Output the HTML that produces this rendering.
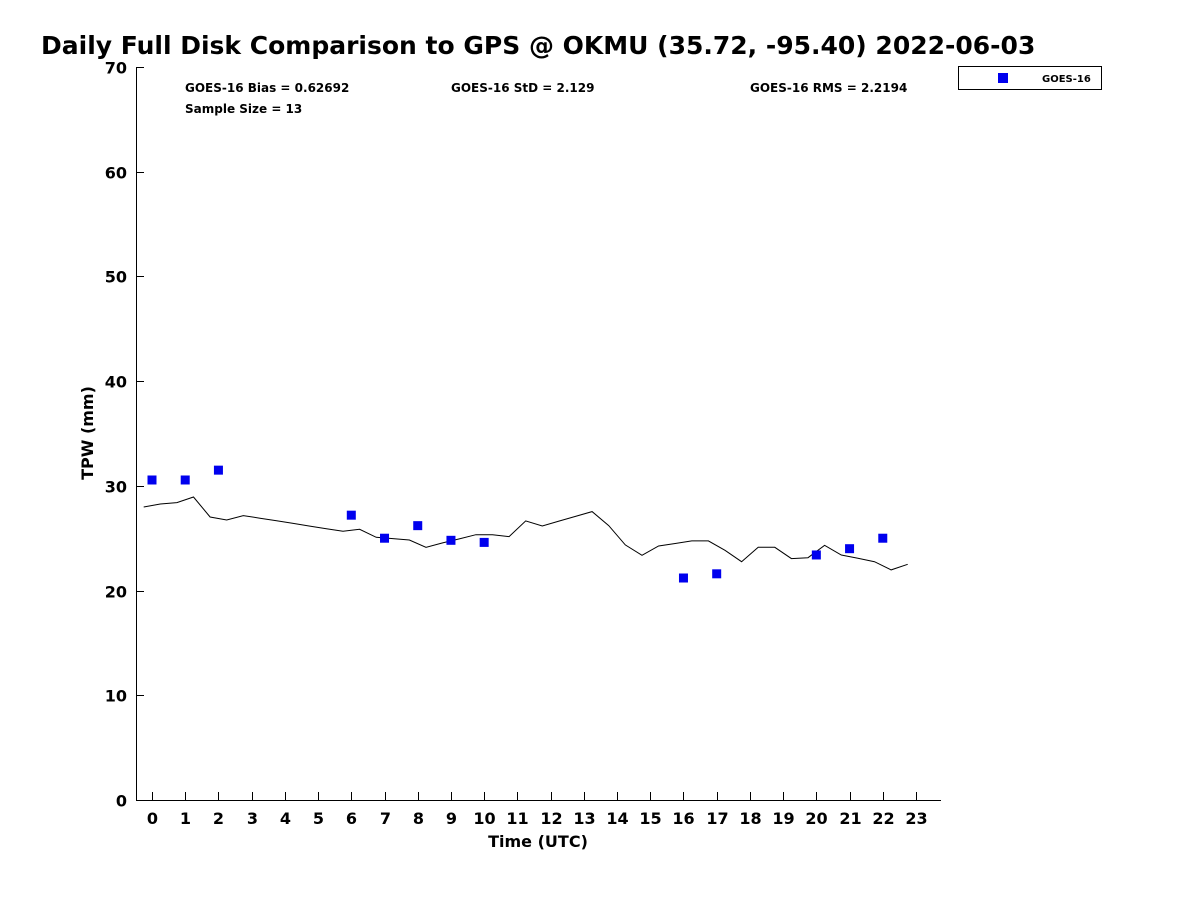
<!DOCTYPE html>
<html><head><meta charset="utf-8"><style>
body{margin:0;background:#fff;}
svg text{font-family:"DejaVu Sans","Liberation Sans",sans-serif;font-weight:bold;fill:#000;}
</style></head><body>
<svg id="chart" width="1200" height="900" xmlns="http://www.w3.org/2000/svg">
<rect width="1200" height="900" fill="#fff"/>
<text x="41" y="54" font-size="25">Daily Full Disk Comparison to GPS @ OKMU (35.72, -95.40) 2022-06-03</text>
<g id="axes"></g>
<g id="marks"></g>
<text x="185" y="92" font-size="12">GOES-16 Bias = 0.62692</text>
<text x="451" y="92" font-size="12">GOES-16 StD = 2.129</text>
<text x="750" y="92" font-size="12">GOES-16 RMS = 2.2194</text>
<text x="185" y="113" font-size="12">Sample Size = 13</text>
<g>
<rect x="958.5" y="66.5" width="143" height="23" fill="#fff" stroke="#000" stroke-width="1"/>
<rect x="998" y="73" width="10" height="10" fill="#0000ee"/>
<text x="1042" y="82" font-size="10">GOES-16</text>
</g>
<text transform="translate(93,433) rotate(-90)" text-anchor="middle" font-size="16">TPW (mm)</text>
<text x="538" y="847" text-anchor="middle" font-size="16">Time (UTC)</text>
</svg>
<script>
const gpsTimes=[-0.25,0.25,0.75,1.25,1.75,2.25,2.75,3.25,3.75,4.25,4.75,5.25,5.75,6.25,6.75,7.25,7.75,8.25,8.75,9.25,9.75,10.25,10.75,11.25,11.75,12.25,12.75,13.25,13.75,14.25,14.75,15.25,15.75,16.25,16.75,17.25,17.75,18.25,18.75,19.25,19.75,20.25,20.75,21.25,21.75,22.25,22.75];
const gpsValues=[27.98,28.27,28.4,28.94,27.03,26.74,27.16,26.91,26.66,26.41,26.16,25.91,25.66,25.85,25.09,24.96,24.83,24.13,24.55,24.93,25.34,25.34,25.15,26.65,26.17,26.63,27.08,27.54,26.2,24.36,23.37,24.26,24.5,24.74,24.74,23.85,22.76,24.13,24.13,23.05,23.14,24.32,23.4,23.08,22.76,21.97,22.51];
const goesTimes=[0,1,2,6,7,8,9,10,16,17,20,21,22];
const goesValues=[30.56,30.56,31.5,27.2,25.0,26.2,24.8,24.6,21.2,21.6,23.4,24.0,25.0];
const xTicks=[0,1,2,3,4,5,6,7,8,9,10,11,12,13,14,15,16,17,18,19,20,21,22,23];
const yTicks=[0,10,20,30,40,50,60,70];
const NS='http://www.w3.org/2000/svg';
const L=136,R=941,T=67,B=800;
const X=t=>152+t*33.217;
const Y=v=>B-(v/70)*(B-T);
function el(tag,attrs,parent){const e=document.createElementNS(NS,tag);for(const k in attrs)e.setAttribute(k,attrs[k]);parent.appendChild(e);return e;}
const axes=document.getElementById('axes'),marks=document.getElementById('marks');
const yl=el('line',{x1:L+0.5,y1:T,x2:L+0.5,y2:B,stroke:'#000'},axes);


const xl=el('line',{x1:L,y1:B+0.5,x2:R,y2:B+0.5,stroke:'#000'},axes);


yTicks.forEach(v=>{
  const y=Math.round(Y(v))+0.5;
  const tk=el('line',{x1:L,y1:y,x2:L+8,y2:y,stroke:'#000'},axes);
  
  
  const tx=el('text',{x:L-9,y:y+6,'text-anchor':'end','font-size':16,fill:'#222'},axes);
  tx.textContent=v;
  
  
});
xTicks.forEach(t=>{
  const x=Math.round(X(t))+0.5;
  const tk=el('line',{x1:x,y1:B,x2:x,y2:B-8,stroke:'#000'},axes);
  
  
  const tx=el('text',{x:x,y:B+24,'text-anchor':'middle','font-size':16,fill:'#222'},axes);
  tx.textContent=t;
  
  
});
const pts=gpsTimes.map((t,i)=>X(t).toFixed(1)+','+Y(gpsValues[i]).toFixed(1)).join(' ');
const pl=el('polyline',{points:pts,fill:'none',stroke:'#000','stroke-width':1},marks);


goesTimes.forEach((t,i)=>{
  const r=el('rect',{x:X(t)-4.5,y:Y(goesValues[i])-4.5,width:9,height:9,fill:'#0000ee'},marks);
  
  
});
</script>
</body></html>
